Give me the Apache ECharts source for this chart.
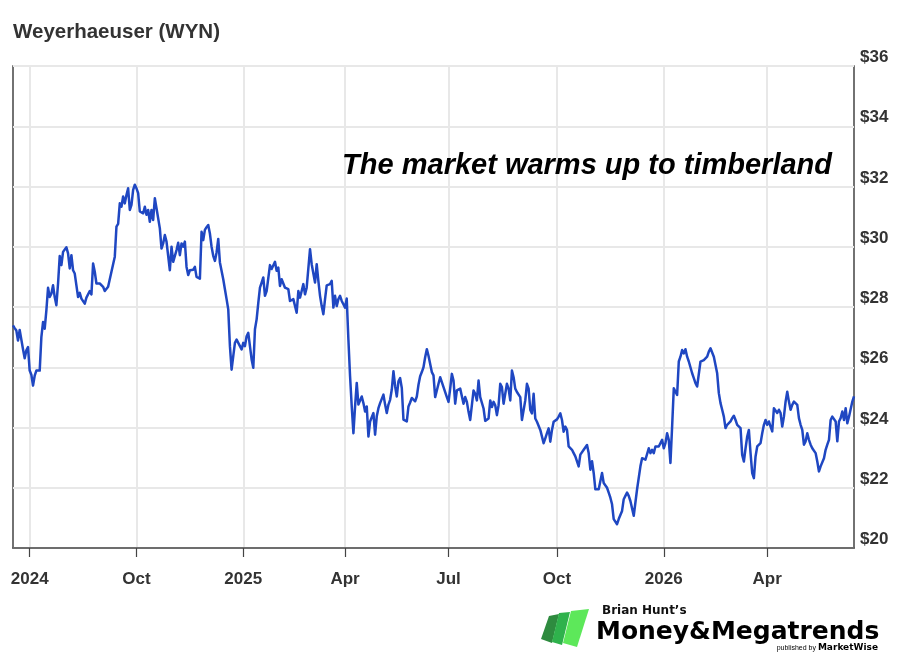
<!DOCTYPE html>
<html>
<head>
<meta charset="utf-8">
<title>Weyerhaeuser (WYN)</title>
<script src="https://cdn.jsdelivr.net/npm/echarts@6/dist/echarts.min.js"></script>
<style>
  html, body { margin: 0; padding: 0; background: #fff; }
  #chart-container { width: 900px; height: 664px; }
</style>
</head>
<body>
<div id="chart-container"></div>
<script>
// Daily closes, left to right, in four stretches
const leg1 = [
  27.39, 27.30, 27.22, 26.89, 27.24, 27.27, 26.60, 26.30, 26.56, 26.67,
  25.89, 25.75, 25.39, 25.72, 25.89, 25.89, 25.89, 27.00, 27.50, 27.28,
  27.89, 28.64, 28.33, 28.44, 28.72, 28.33, 28.06, 28.78, 29.69, 29.39,
  29.83, 29.87, 29.98, 29.78, 29.28, 29.72, 29.22, 29.11, 28.72, 28.33,
  28.47, 28.28, 28.22, 28.11, 28.31, 28.28, 28.53, 28.42, 29.44, 29.17,
  28.78, 28.72, 28.78, 28.83, 28.67, 28.53, 28.56, 28.67, 28.61, 29.17,
  29.22, 29.67, 30.67, 30.76, 31.44, 31.33, 31.67, 31.44, 31.72, 31.94,
  31.22, 31.39, 31.89, 32.06, 31.94, 31.78, 31.17, 31.11, 31.11, 31.33,
  31.06, 31.22, 30.83, 31.22, 30.89, 31.61, 31.28, 31.22, 30.61, 29.94,
  30.11, 30.39, 30.17, 30.22, 29.22, 30.00, 29.50, 29.50, 29.89, 30.13,
  29.72, 30.11, 30.00, 30.17, 29.33, 29.06, 29.22, 29.22, 29.24, 29.33,
  29.00, 28.97, 28.94, 30.50, 30.22, 30.56, 30.65, 30.72, 30.44, 30.00,
  29.70
];
const leg2 = [
  29.53, 29.81, 30.26, 29.48, 29.42, 28.92, 28.59, 28.26, 27.92, 26.70,
  25.92, 26.37, 26.81, 26.92, 26.81, 26.70, 26.59, 26.81, 26.70, 27.03,
  27.14, 26.70, 26.26, 25.98, 27.26, 27.59, 28.14, 28.64, 28.81, 28.98,
  28.37, 28.53, 28.59, 29.39, 29.26, 29.31, 29.50, 29.20, 29.31, 28.70,
  28.92, 28.98, 28.64, 28.70, 28.59, 28.20, 28.26, 28.26, 28.31, 27.81,
  28.53, 28.31, 28.53, 28.76, 28.42, 28.64, 28.70, 29.92, 29.42, 29.48,
  28.81, 29.42, 28.87, 28.37, 28.03, 27.76, 28.26, 28.72, 28.68, 28.76,
  28.87, 27.98, 28.37, 28.03, 28.26, 28.37, 28.20, 28.09, 27.98, 28.28,
  26.92, 25.70, 24.70, 23.81, 24.70, 25.48, 24.76, 24.76, 25.03, 24.81,
  24.53, 24.70, 23.70, 24.20, 24.26, 24.48, 23.76, 24.37, 24.64, 24.81,
  24.81, 25.09, 24.76, 24.48, 24.76, 24.92, 25.26, 25.87, 25.37, 25.03,
  25.53, 25.64, 25.31, 24.26, 24.20, 24.20, 24.70, 24.83, 24.98, 25.03,
  24.87, 25.03, 25.42, 25.70
];
const leg3 = [
  25.84, 26.00, 26.33, 26.60, 26.38, 26.33, 25.84, 25.73, 25.01, 25.07,
  25.45, 25.67, 25.73, 25.34, 25.40, 25.01, 24.85, 25.29, 25.78, 25.56,
  24.79, 25.23, 25.23, 25.29, 25.34, 24.79, 25.01, 24.85, 24.52, 24.25,
  24.19, 25.23, 25.12, 24.90, 25.56, 25.01, 25.01, 24.63, 24.22, 24.25,
  24.30, 24.90, 24.68, 24.85, 24.74, 24.41, 24.74, 25.45, 25.34, 24.79,
  25.12, 25.45, 25.29, 24.90, 25.89, 25.67, 25.29, 25.18, 25.18, 25.01,
  24.25, 24.19, 24.90, 25.45, 25.29, 24.58, 24.47, 25.12, 24.30, 24.19,
  24.25, 23.92, 23.86, 23.48, 23.64, 23.81, 23.97, 23.53, 23.92, 24.19,
  24.25, 24.27, 24.36, 24.47, 24.25, 23.86, 24.03, 23.92, 23.37, 23.32,
  23.26, 23.15, 23.04, 22.99, 22.71, 23.10, 23.15, 23.26, 23.32, 23.42,
  23.15, 22.60, 22.88, 22.49, 21.95, 21.95, 21.95, 21.95, 22.49, 22.16,
  22.16, 22.00, 21.84, 21.67, 21.45, 20.96, 20.90, 20.79, 20.96, 20.90,
  21.23, 21.62, 21.73, 21.84, 21.73, 21.56, 21.51, 21.07, 21.51, 21.95,
  21.89, 22.71
];
const leg4 = [
  22.98, 23.04, 22.93, 22.87, 23.31, 23.15, 23.26, 23.15, 23.37, 23.31,
  23.37, 23.43, 23.59, 23.31, 23.48, 23.81, 23.59, 22.82, 24.03, 25.30,
  25.30, 25.08, 26.19, 26.35, 26.57, 26.46, 26.60, 26.35, 26.19, 26.13,
  25.80, 25.64, 25.47, 25.36, 25.41, 26.19, 26.24, 26.24, 26.19, 26.35,
  26.52, 26.63, 26.57, 26.35, 26.41, 25.80, 25.14, 24.81, 24.59, 24.36,
  23.98, 24.09, 24.09, 24.20, 24.31, 24.39, 24.25, 24.09, 24.03, 23.98,
  23.09, 22.87, 23.31, 23.70, 23.92, 23.15, 22.49, 22.32, 23.04, 23.37,
  23.43, 23.48, 23.81, 24.09, 24.25, 24.09, 24.20, 24.03, 23.87, 24.64,
  24.59, 24.48, 24.59, 24.48, 24.03, 24.36, 24.86, 25.19, 24.86, 24.59,
  24.75, 24.86, 24.86, 24.75, 24.31, 24.09, 23.92, 23.43, 23.54, 23.81,
  23.59, 23.43, 23.31, 23.26, 23.15, 22.87, 22.54, 22.71, 22.71, 22.98,
  23.26, 23.43, 23.59, 24.25, 24.36, 24.36, 24.20, 23.54, 24.20, 24.31,
  24.53, 24.25, 24.64, 24.14, 24.36, 24.31, 24.86, 25.03
];

// Quarter ticks along the bottom: which trading day each sits on, and its label
const tickDays = [10, 74, 138, 199, 261, 326, 390, 452];
const tickLabels = ['2024', 'Oct', '2025', 'Apr', 'Jul', 'Oct', '2026', 'Apr'];

const prices = leg1.concat(leg2, leg3, leg4);
const days = prices.map((_, i) => String(i));

const FONT = '"Liberation Sans", Arial, Helvetica, sans-serif';
const LOGO_FONT = '"DejaVu Sans", Verdana, sans-serif';
const isTick = (index) => tickDays.indexOf(index) !== -1;

const chartContainer = document.getElementById('chart-container');
const myChart = echarts.init(chartContainer, null, { renderer: 'canvas' });

myChart.setOption({
  animation: false,
  backgroundColor: '#fff',
  title: {
    text: 'Weyerhaeuser (WYN)',
    left: 13,
    top: 22,
    padding: 0,
    textStyle: {
      fontFamily: FONT,
      fontSize: 20.5,
      fontWeight: 'bold',
      color: '#333'
    }
  },
  grid: {
    left: 13,
    right: 46,
    top: 66,
    bottom: 116,
    show: true,
    borderColor: '#444',
    borderWidth: 1.5
  },
  xAxis: {
    type: 'category',
    boundaryGap: false,
    data: days,
    axisLine: { lineStyle: { color: '#444', width: 1.5 } },
    axisTick: {
      interval: (index) => isTick(index),
      length: 9,
      lineStyle: { color: '#444', width: 1.2 }
    },
    axisLabel: {
      interval: (index) => isTick(index),
      formatter: (value, index) => tickLabels[tickDays.indexOf(index)] || '',
      margin: 23,
      fontFamily: FONT,
      fontSize: 17,
      fontWeight: 'bold',
      color: '#333'
    },
    splitLine: {
      show: true,
      interval: (index) => isTick(index),
      lineStyle: { color: '#e8e8e8', width: 2 }
    }
  },
  yAxis: {
    type: 'value',
    position: 'right',
    min: 20,
    max: 36,
    interval: 2,
    axisLine: { show: false },
    axisTick: { show: false },
    axisLabel: {
      formatter: '${value}',
      margin: 6,
      verticalAlign: 'bottom',
      fontFamily: FONT,
      fontSize: 17,
      fontWeight: 'bold',
      color: '#333'
    },
    splitLine: { lineStyle: { color: '#e8e8e8', width: 2 } }
  },
  series: [
    {
      name: 'WYN',
      type: 'line',
      data: prices,
      showSymbol: false,
      symbol: 'none',
      lineStyle: { color: '#1f47c2', width: 2.5, join: 'round' },
      z: 3
    }
  ],
  graphic: [
    {
      type: 'text',
      x: 832,
      y: 166,
      z: 100,
      style: {
        text: 'The market warms up to timberland',
        align: 'right',
        verticalAlign: 'middle',
        fontFamily: FONT,
        fontSize: 29,
        fontWeight: 'bold',
        fontStyle: 'italic',
        fill: '#000'
      }
    },
    // Money & Megatrends logo, bottom right
    {
      type: 'polygon',
      shape: { points: [[549, 616], [559, 614], [552, 643], [541, 639]] },
      style: { fill: '#2e8b3f' }
    },
    {
      type: 'polygon',
      shape: { points: [[559, 613], [570, 612], [562, 645], [552, 642]] },
      style: { fill: '#2fb24c' }
    },
    {
      type: 'polygon',
      shape: { points: [[571, 611], [589, 609], [577, 647], [563, 643]] },
      style: { fill: '#5de85a' }
    },
    {
      type: 'text',
      x: 602,
      y: 611,
      style: {
        text: 'Brian Hunt\u2019s',
        verticalAlign: 'middle',
        fontFamily: LOGO_FONT,
        fontSize: 12,
        fontWeight: 'bold',
        fill: '#111'
      }
    },
    {
      type: 'text',
      x: 596,
      y: 632,
      style: {
        text: '{a|Money}{b|&}{a|Megatrends}',
        verticalAlign: 'middle',
        rich: {
          a: { fontFamily: LOGO_FONT, fontSize: 25, fontWeight: 'bold', color: '#111' },
          b: { fontFamily: LOGO_FONT, fontSize: 25, fontWeight: 'bold', color: '#2fb24c' }
        }
      }
    },
    {
      type: 'text',
      x: 878,
      y: 648,
      style: {
        text: '{p|published by }{m|MarketWise}',
        align: 'right',
        verticalAlign: 'middle',
        rich: {
          p: { fontFamily: FONT, fontSize: 7, color: '#333' },
          m: { fontFamily: LOGO_FONT, fontSize: 9, fontWeight: 'bold', color: '#111' }
        }
      }
    }
  ]
});
</script>
</body>
</html>
